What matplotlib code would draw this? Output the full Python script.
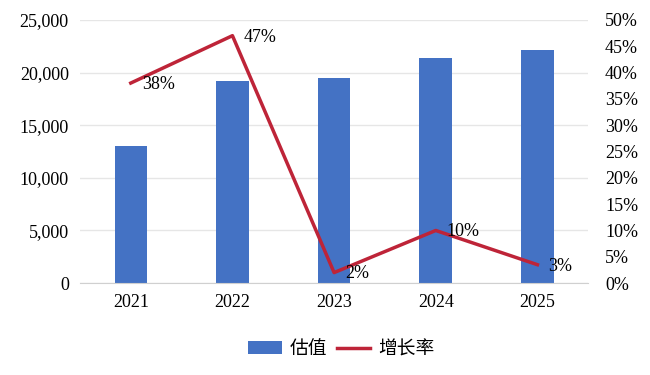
import matplotlib.pyplot as plt
from matplotlib.ticker import FuncFormatter

years = ['2021', '2022', '2023', '2024', '2025']
valuation = [13000, 19200, 19500, 21400, 22100]
growth = [38, 47, 2, 10, 3.5]
growth_labels = ['38%', '47%', '2%', '10%', '3%']

serif = ['Liberation Serif', 'Noto Sans CJK SC']
plt.rcParams['font.family'] = serif

fig = plt.figure(figsize=(6.5, 3.75), dpi=100)
ax = fig.add_axes([0.123, 0.245, 0.782, 0.702])

x = range(len(years))
ax.bar(x, valuation, width=0.32, color='#4472C4', label='估值', zorder=2)
ax.set_ylim(0, 25000)
ax.set_yticks(range(0, 25001, 5000))
ax.yaxis.set_major_formatter(FuncFormatter(lambda v, p: f'{int(v):,}'))
ax.grid(axis='y', color='#E6E6E6', lw=1, zorder=0)
ax.set_axisbelow(True)
ax.set_xlim(-0.5, len(years) - 0.5)
ax.set_xticks(list(x))
ax.set_xticklabels(years)
for s in ['top', 'right', 'left']:
    ax.spines[s].set_visible(False)
ax.spines['bottom'].set_color('#D0D0D0')
ax.tick_params(length=0, labelsize=13, colors='black')
ax.tick_params(axis='x', pad=8)
ax.tick_params(axis='y', pad=8)

ax2 = ax.twinx()
ax2.plot(list(x), growth, color='#BE2438', lw=2.5, label='增长率', zorder=3)
ax2.set_ylim(0, 50)
ax2.set_yticks(range(0, 51, 5))
ax2.yaxis.set_major_formatter(FuncFormatter(lambda v, p: f'{int(v)}%'))
ax2.tick_params(length=0, labelsize=13, pad=12)
for s in ax2.spines.values():
    s.set_visible(False)

for xi, g, lab in zip(x, growth, growth_labels):
    ax2.annotate(lab, (xi, g), xytext=(8, -1), textcoords='offset points',
                 ha='left', va='center', fontsize=13)

h1, l1 = ax.get_legend_handles_labels()
h2, l2 = ax2.get_legend_handles_labels()
fig.legend(h1 + h2, l1 + l2, loc='center', bbox_to_anchor=(0.525, 0.07),
           ncol=2, frameon=False, handlelength=1.8,
           handletextpad=0.4, columnspacing=0.5,
           prop={'family': ['Noto Sans CJK SC'], 'size': 13.5})

fig.savefig('out.png', dpi=100)
